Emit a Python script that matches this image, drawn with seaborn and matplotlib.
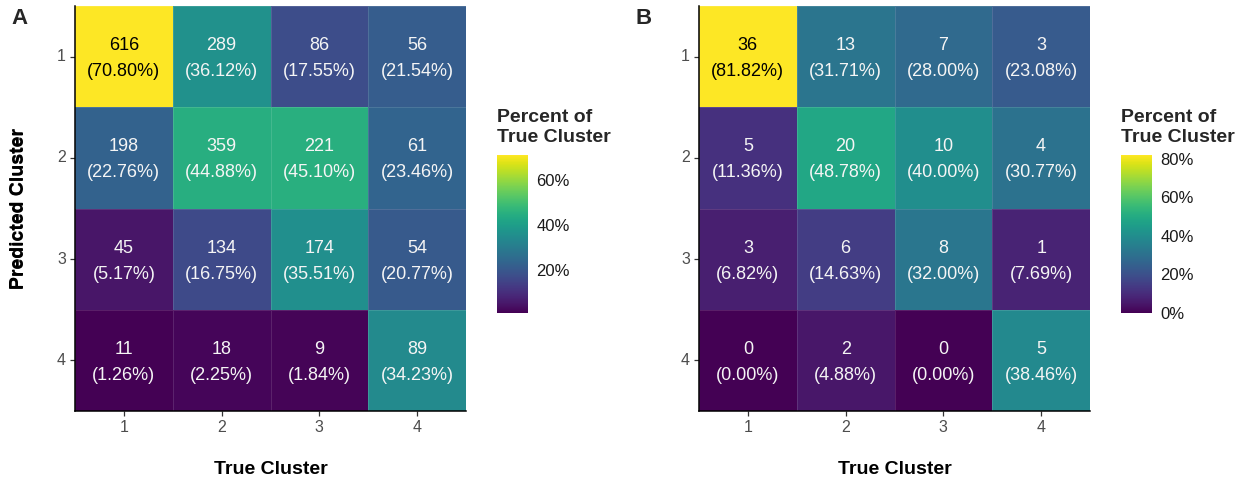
import numpy as np
import pandas as pd
import matplotlib
matplotlib.use("Agg")
import matplotlib.pyplot as plt
import seaborn as sns

sns.set_theme(style="white")
plt.rcParams["font.family"] = ["Liberation Sans", "DejaVu Sans"]

clusters = ["1", "2", "3", "4"]

# rows = predicted cluster, columns = true cluster
counts_a = [
    [616, 289, 86, 56],
    [198, 359, 221, 61],
    [45, 134, 174, 54],
    [11, 18, 9, 89],
]
counts_b = [
    [36, 13, 7, 3],
    [5, 20, 10, 4],
    [3, 6, 8, 1],
    [0, 2, 0, 5],
]

W, H = 1243, 482
fig = plt.figure(figsize=(W / 100, H / 100), dpi=100)


def px_rect(x0, y0, x1, y1):
    return [x0 / W, 1 - y1 / H, (x1 - x0) / W, (y1 - y0) / H]


def confusion_panel(counts, ax_box, cax_box, letter, letter_xy, cbar_ticks):
    cnt = pd.DataFrame(counts, index=clusters, columns=clusters)
    pct = cnt / cnt.sum(axis=0) * 100

    ax = fig.add_axes(px_rect(*ax_box))
    cax = fig.add_axes(px_rect(*cax_box))

    sns.heatmap(
        pct, ax=ax, cbar_ax=cax, cmap="viridis",
        vmin=pct.values.min(), vmax=pct.values.max(),
        linewidths=0.6, linecolor=(1, 1, 1, 0.12),
        annot=False, square=False,
    )

    for i in range(len(clusters)):
        for j in range(len(clusters)):
            p = pct.iloc[i, j]
            ax.text(j + 0.5, i + 0.52, f"{cnt.iloc[i, j]}\n({p:.2f}%)",
                    ha="center", va="center", fontsize=13, linespacing=1.7,
                    color="black" if p > 60 else "#F5F5F5")

    # axes styling
    for side in ["left", "bottom"]:
        ax.spines[side].set_visible(True)
        ax.spines[side].set_color("black")
        ax.spines[side].set_linewidth(1.1)
    for side in ["top", "right"]:
        ax.spines[side].set_visible(False)
    ax.tick_params(axis="both", which="both", length=3.5, width=0.9,
                   color="#333333", labelsize=11.5, labelcolor="#4D4D4D",
                   bottom=True, left=True, pad=3)
    ax.set_yticklabels(clusters, rotation=0)
    ax.set_xticklabels(clusters, rotation=0)

    ax.set_xlabel("True Cluster", fontsize=14, fontweight="bold", color="black")
    ax.set_ylabel("Predicted Cluster", fontsize=14, fontweight="bold", color="black")
    aw = ax_box[2] - ax_box[0]
    ah = ax_box[3] - ax_box[1]
    ax.xaxis.set_label_coords(0.5, -(469 - ax_box[3]) / ah)
    ax.xaxis.label.set_va("center")
    ax.yaxis.set_label_coords(-(ax_box[0] - 19) / aw, 0.5)
    ax.yaxis.label.set_va("center")

    # colour bar
    cb = ax.collections[0].colorbar
    cb.outline.set_visible(False)
    cb.set_ticks(cbar_ticks)
    cb.set_ticklabels([f"{t}%" for t in cbar_ticks])
    cax.yaxis.set_ticks_position("both")
    cax.tick_params(axis="y", which="both", direction="in", length=5, width=0.8,
                    color="white", labelsize=12, labelcolor="#1A1A1A",
                    left=True, right=True, labelleft=False, labelright=True, pad=6)

    fig.text(cax_box[0] / W, 1 - 117 / H, "Percent of", fontsize=14,
             fontweight="bold", ha="left", va="center")
    fig.text(cax_box[0] / W, 1 - 137 / H, "True Cluster", fontsize=14,
             fontweight="bold", ha="left", va="center")

    fig.text(letter_xy[0] / W, 1 - letter_xy[1] / H, letter, fontsize=16,
             fontweight="bold", ha="center", va="center")


confusion_panel(counts_a, (75, 6, 466, 411), (497, 155, 528, 313), "A", (20, 19), [20, 40, 60])
confusion_panel(counts_b, (699, 6, 1090, 411), (1121, 155, 1152, 313), "B", (644, 19), [0, 20, 40, 60, 80])

fig.savefig("out.png", dpi=100)
